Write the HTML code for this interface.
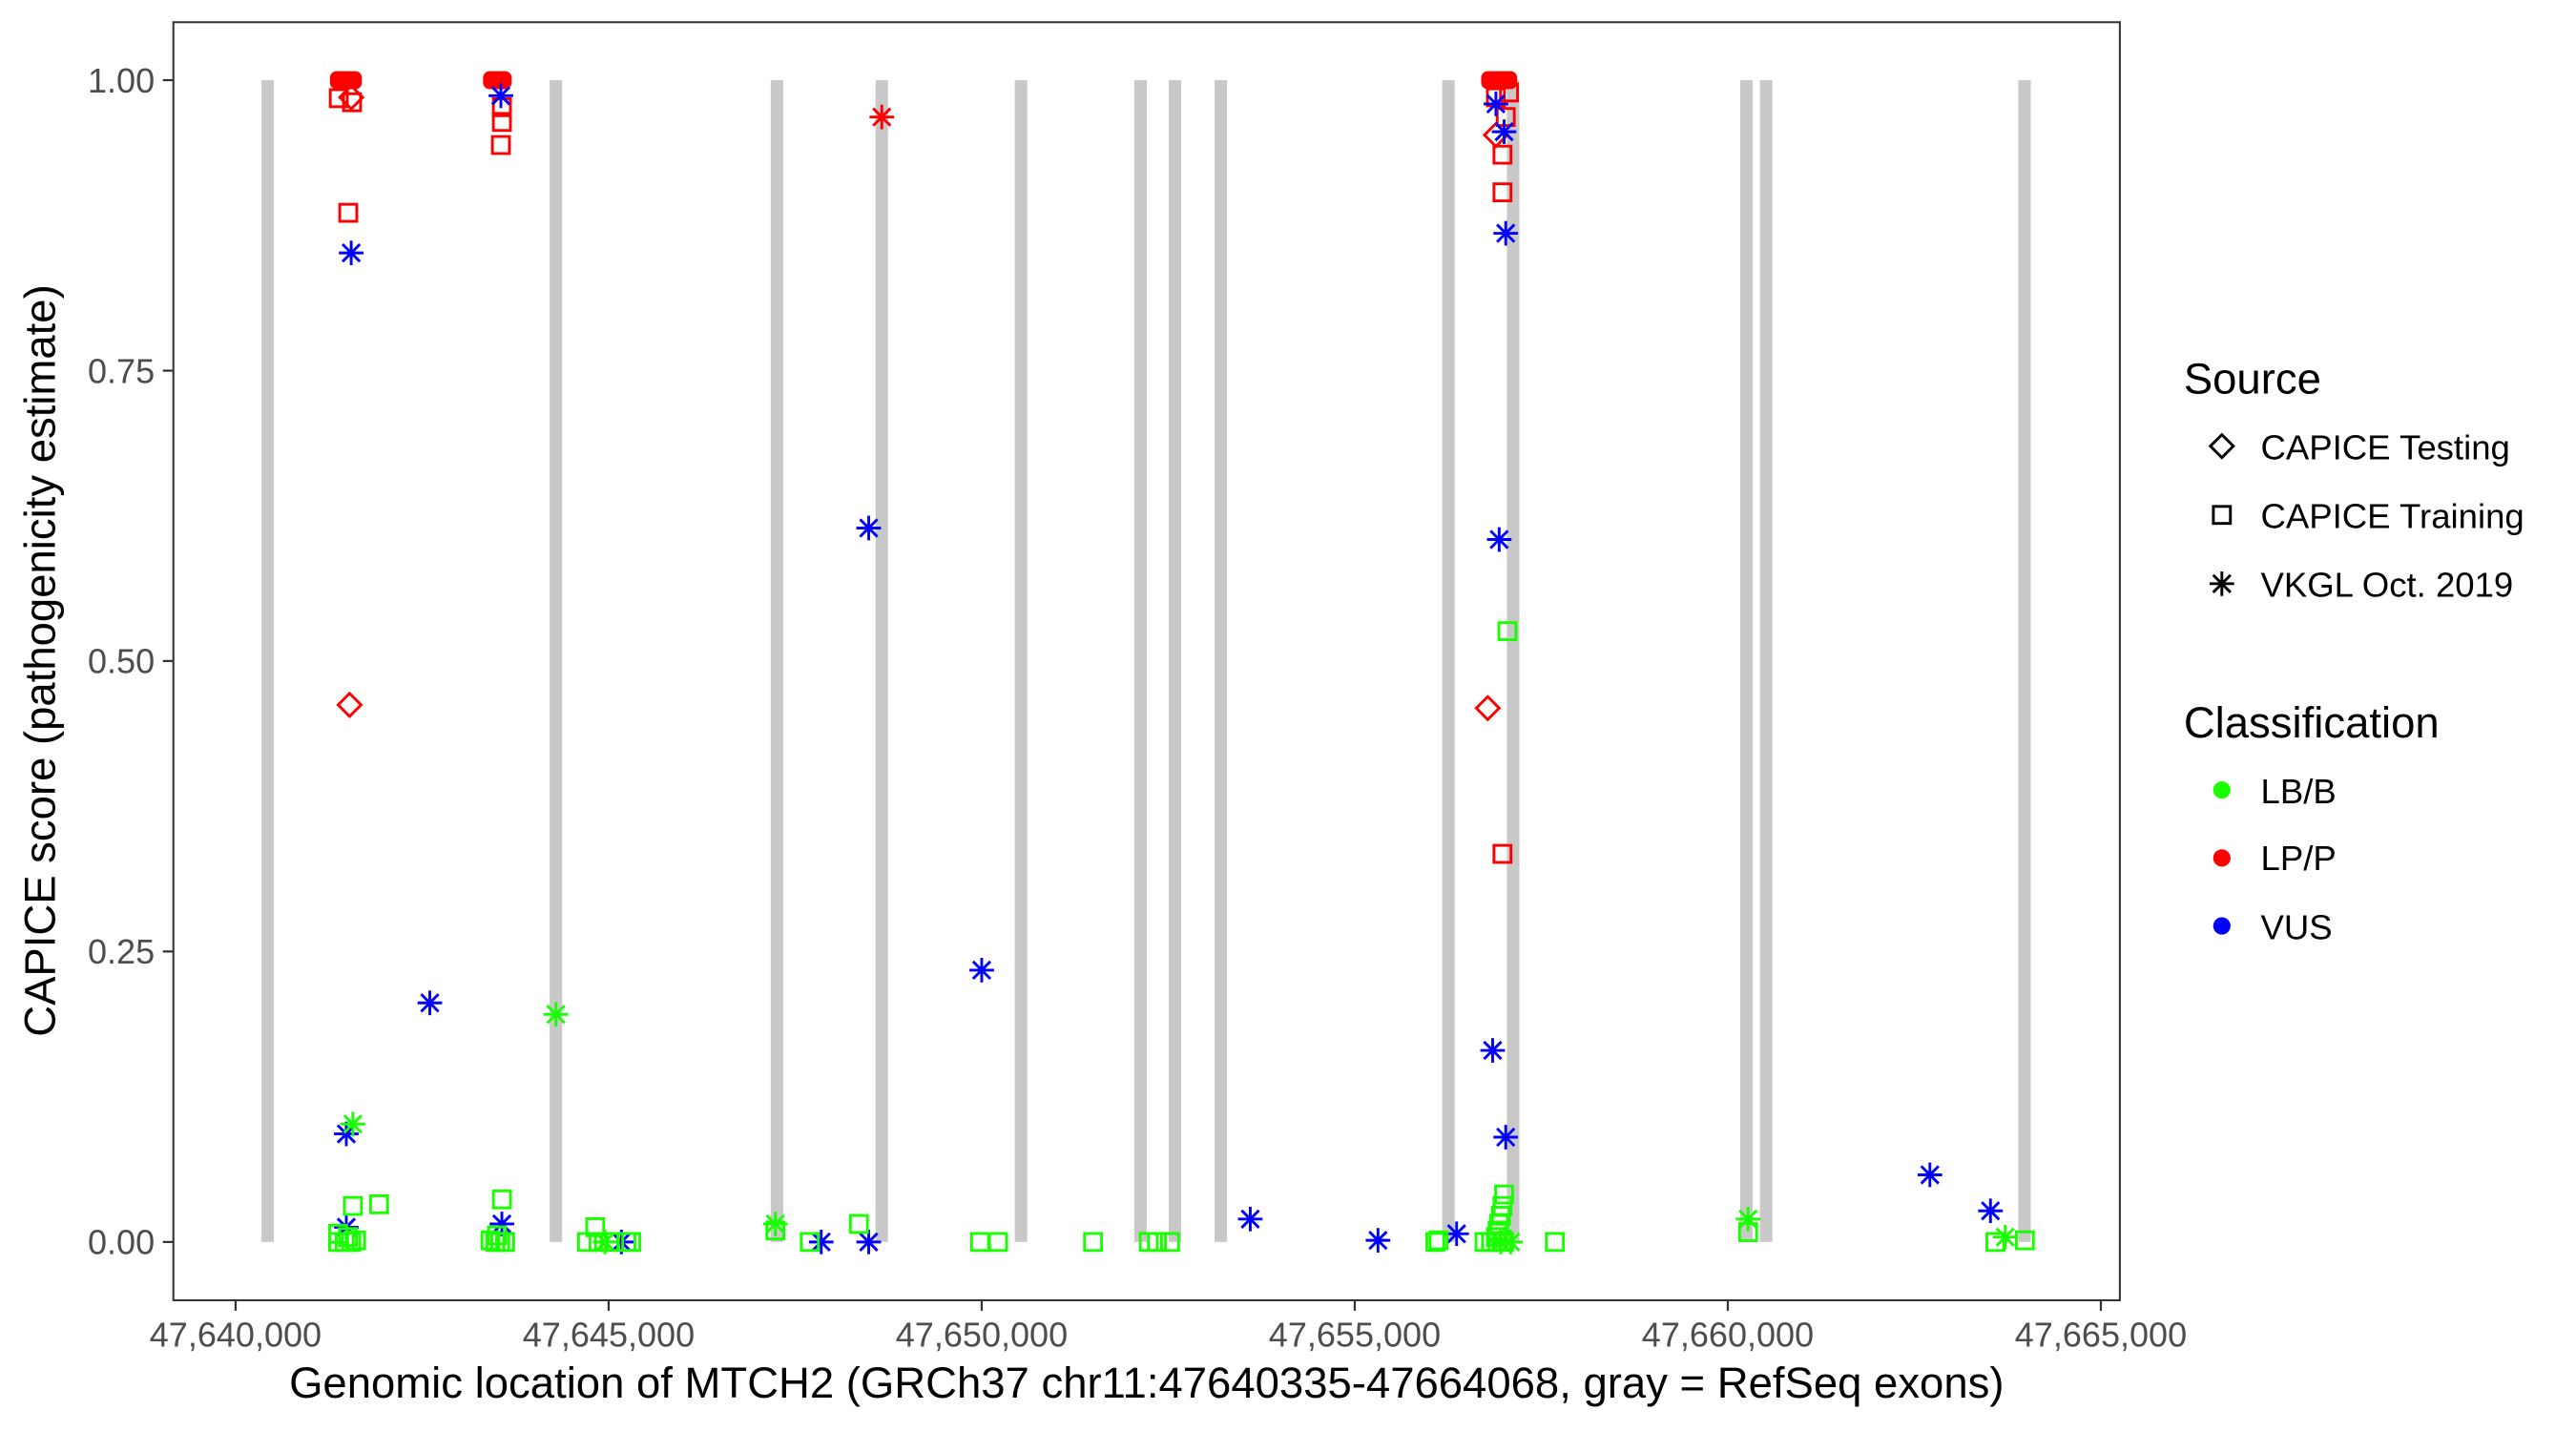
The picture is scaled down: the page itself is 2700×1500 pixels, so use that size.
<!DOCTYPE html>
<html><head><meta charset="utf-8"><style>
html,body{margin:0;padding:0;background:#fff;width:2700px;height:1500px;overflow:hidden}
svg{display:block}
text{font-family:"Liberation Sans",Arial,sans-serif}
</style></head><body>
<svg width="2700" height="1500" viewBox="-1.46 -1.46 1573 873.9" xmlns="http://www.w3.org/2000/svg">
<defs>
<g id="sq"><rect x="-5.2" y="-5.2" width="10.4" height="10.4" fill="none" stroke-width="1.7"/></g>
<g id="dm"><polygon points="0,-7 7,0 0,7 -7,0" fill="none" stroke-width="1.7"/></g>
<g id="st" stroke-width="1.7"><line x1="0" y1="-7.5" x2="0" y2="7.5"/><line x1="-7.5" y1="0" x2="7.5" y2="0"/><line x1="-5.3" y1="-5.3" x2="5.3" y2="5.3"/><line x1="-5.3" y1="5.3" x2="5.3" y2="-5.3"/></g>
</defs>
<rect x="-2" y="-2" width="1580" height="880" fill="#fff"/>
<g fill="#c8c8c8">
<rect x="158.2" y="47.5" width="7.6" height="709.5"/>
<rect x="334.2" y="47.5" width="7.6" height="709.5"/>
<rect x="469.2" y="47.5" width="7.6" height="709.5"/>
<rect x="533.2" y="47.5" width="7.6" height="709.5"/>
<rect x="618.2" y="47.5" width="7.6" height="709.5"/>
<rect x="691.2" y="47.5" width="7.6" height="709.5"/>
<rect x="712.2" y="47.5" width="7.6" height="709.5"/>
<rect x="740.2" y="47.5" width="7.6" height="709.5"/>
<rect x="879.2" y="47.5" width="7.6" height="709.5"/>
<rect x="918.7" y="47.5" width="7.6" height="709.5"/>
<rect x="1061.2" y="47.5" width="7.6" height="709.5"/>
<rect x="1073.2" y="47.5" width="7.6" height="709.5"/>
<rect x="1231" y="47.5" width="7.6" height="709.5"/>
</g>
<g fill="#ff0000">
<rect x="200" y="42" width="19.5" height="11" rx="4"/>
<rect x="293.5" y="42" width="17.5" height="11" rx="4"/>
<rect x="903" y="42" width="22" height="11" rx="4"/>
</g>
<g stroke="#ff0000">
<use href="#sq" x="205.4" y="58.5"/><use href="#sq" x="213.5" y="61"/><use href="#dm" x="213" y="58"/>
<use href="#sq" x="211.2" y="128.5"/><use href="#dm" x="212" y="429"/>
<use href="#sq" x="305" y="64"/><use href="#sq" x="305" y="73"/><use href="#sq" x="304.4" y="87.1"/>
<use href="#st" x="537" y="70"/>
<use href="#sq" x="912" y="58"/><use href="#sq" x="920" y="55"/><use href="#sq" x="918" y="70"/>
<use href="#sq" x="916" y="93"/><use href="#sq" x="916" y="116"/><use href="#dm" x="912" y="81"/>
<use href="#dm" x="907" y="431"/><use href="#sq" x="916" y="520"/>
</g>
<g stroke="#0000ff">
<use href="#st" x="213" y="153"/><use href="#st" x="210" y="691"/><use href="#st" x="210" y="748"/>
<use href="#st" x="261" y="611"/>
<use href="#st" x="304.4" y="57"/><use href="#st" x="305" y="746"/>
<use href="#st" x="378" y="757"/><use href="#st" x="500" y="757"/><use href="#st" x="529" y="757"/>
<use href="#st" x="529" y="321"/><use href="#st" x="598" y="591"/><use href="#st" x="762" y="743"/>
<use href="#st" x="840" y="756"/><use href="#st" x="888" y="752"/>
<use href="#st" x="912" y="62"/><use href="#st" x="917" y="79"/><use href="#st" x="918" y="141"/>
<use href="#st" x="914" y="328"/><use href="#st" x="910" y="640"/><use href="#st" x="918" y="693"/>
<use href="#st" x="1177" y="716"/><use href="#st" x="1214" y="738"/>
</g>
<g stroke="#1aff00">
<use href="#st" x="214" y="685"/><use href="#sq" x="214" y="735"/><use href="#sq" x="230" y="734"/>
<use href="#sq" x="205" y="752"/><use href="#sq" x="205" y="757"/><use href="#sq" x="209" y="757"/><use href="#sq" x="213" y="757"/><use href="#sq" x="216" y="756"/><use href="#sq" x="211" y="754"/>
<use href="#sq" x="305" y="731"/><use href="#sq" x="298" y="756"/><use href="#sq" x="301" y="757"/><use href="#sq" x="304" y="757"/><use href="#sq" x="307" y="757"/><use href="#sq" x="302" y="753"/>
<use href="#st" x="338" y="618"/>
<use href="#sq" x="362" y="748"/><use href="#sq" x="357" y="757"/><use href="#sq" x="364" y="757"/><use href="#sq" x="371" y="757"/><use href="#sq" x="381" y="757"/><use href="#sq" x="384" y="757"/><use href="#st" x="368" y="757"/>
<use href="#st" x="472" y="746"/><use href="#sq" x="472" y="750"/>
<use href="#sq" x="493" y="757"/><use href="#sq" x="523" y="746"/>
<use href="#sq" x="597" y="757"/><use href="#sq" x="608" y="757"/><use href="#sq" x="666" y="757"/>
<use href="#sq" x="700" y="757"/><use href="#sq" x="705" y="757"/><use href="#sq" x="713" y="757"/>
<use href="#sq" x="875" y="757"/><use href="#sq" x="877" y="756"/>
<use href="#sq" x="919" y="384"/>
<use href="#sq" x="917" y="728"/><use href="#sq" x="916" y="735"/><use href="#sq" x="915" y="741"/><use href="#sq" x="914" y="746"/><use href="#sq" x="913" y="750"/><use href="#sq" x="912" y="754"/>
<use href="#sq" x="905" y="757"/><use href="#sq" x="909" y="757"/><use href="#sq" x="913" y="757"/><use href="#sq" x="917" y="757"/><use href="#st" x="915" y="757"/><use href="#st" x="921" y="757"/>
<use href="#sq" x="948" y="757"/>
<use href="#st" x="1066" y="743"/><use href="#sq" x="1066" y="751"/>
<use href="#sq" x="1217" y="757"/><use href="#st" x="1223" y="754"/><use href="#sq" x="1235" y="756"/>
</g>
<rect x="104.4" y="12.1" width="1188.6" height="780.5" fill="none" stroke="#333" stroke-width="1.2"/>
<g stroke="#333" stroke-width="1.3">
<line x1="98" y1="47.5" x2="104.4" y2="47.5"/><line x1="98" y1="224.9" x2="104.4" y2="224.9"/>
<line x1="98" y1="402.2" x2="104.4" y2="402.2"/><line x1="98" y1="579.6" x2="104.4" y2="579.6"/>
<line x1="98" y1="757" x2="104.4" y2="757"/>
<line x1="142.4" y1="792.6" x2="142.4" y2="799"/><line x1="370.2" y1="792.6" x2="370.2" y2="799"/>
<line x1="598" y1="792.6" x2="598" y2="799"/><line x1="825.8" y1="792.6" x2="825.8" y2="799"/>
<line x1="1053.6" y1="792.6" x2="1053.6" y2="799"/><line x1="1281.4" y1="792.6" x2="1281.4" y2="799"/>
</g>
<g fill="#4d4d4d" font-size="21" text-anchor="end">
<text x="93" y="55">1.00</text><text x="93" y="232.4">0.75</text><text x="93" y="409.7">0.50</text>
<text x="93" y="587.1">0.25</text><text x="93" y="764.5">0.00</text>
</g>
<g fill="#4d4d4d" font-size="21" text-anchor="middle">
<text x="142.4" y="821">47,640,000</text><text x="370.2" y="821">47,645,000</text><text x="598" y="821">47,650,000</text>
<text x="825.8" y="821">47,655,000</text><text x="1053.6" y="821">47,660,000</text><text x="1281.4" y="821">47,665,000</text>
</g>
<text x="698.7" y="852" font-size="26.5" text-anchor="middle" fill="#000">Genomic location of MTCH2 (GRCh37 chr11:47640335-47664068, gray = RefSeq exons)</text>
<text transform="translate(32,402) rotate(-90)" font-size="26.5" text-anchor="middle" fill="#000">CAPICE score (pathogenicity estimate)</text>
<text x="1332" y="239" font-size="26.5" fill="#000">Source</text>
<g stroke="#000"><use href="#dm" x="1355.3" y="271"/><use href="#sq" x="1355.3" y="313"/><use href="#st" x="1355.3" y="355"/></g>
<g font-size="21.3" fill="#000">
<text x="1379" y="279">CAPICE Testing</text><text x="1379" y="321">CAPICE Training</text><text x="1379" y="363">VKGL Oct. 2019</text>
</g>
<text x="1332" y="449" font-size="26.5" fill="#000">Classification</text>
<circle cx="1355.3" cy="481" r="5.3" fill="#1aff00"/><circle cx="1355.3" cy="522.5" r="5.3" fill="#ff0000"/><circle cx="1355.3" cy="564" r="5.3" fill="#0000ff"/>
<g font-size="21.3" fill="#000">
<text x="1379" y="489">LB/B</text><text x="1379" y="530">LP/P</text><text x="1379" y="572">VUS</text>
</g>
</svg>
</body></html>
